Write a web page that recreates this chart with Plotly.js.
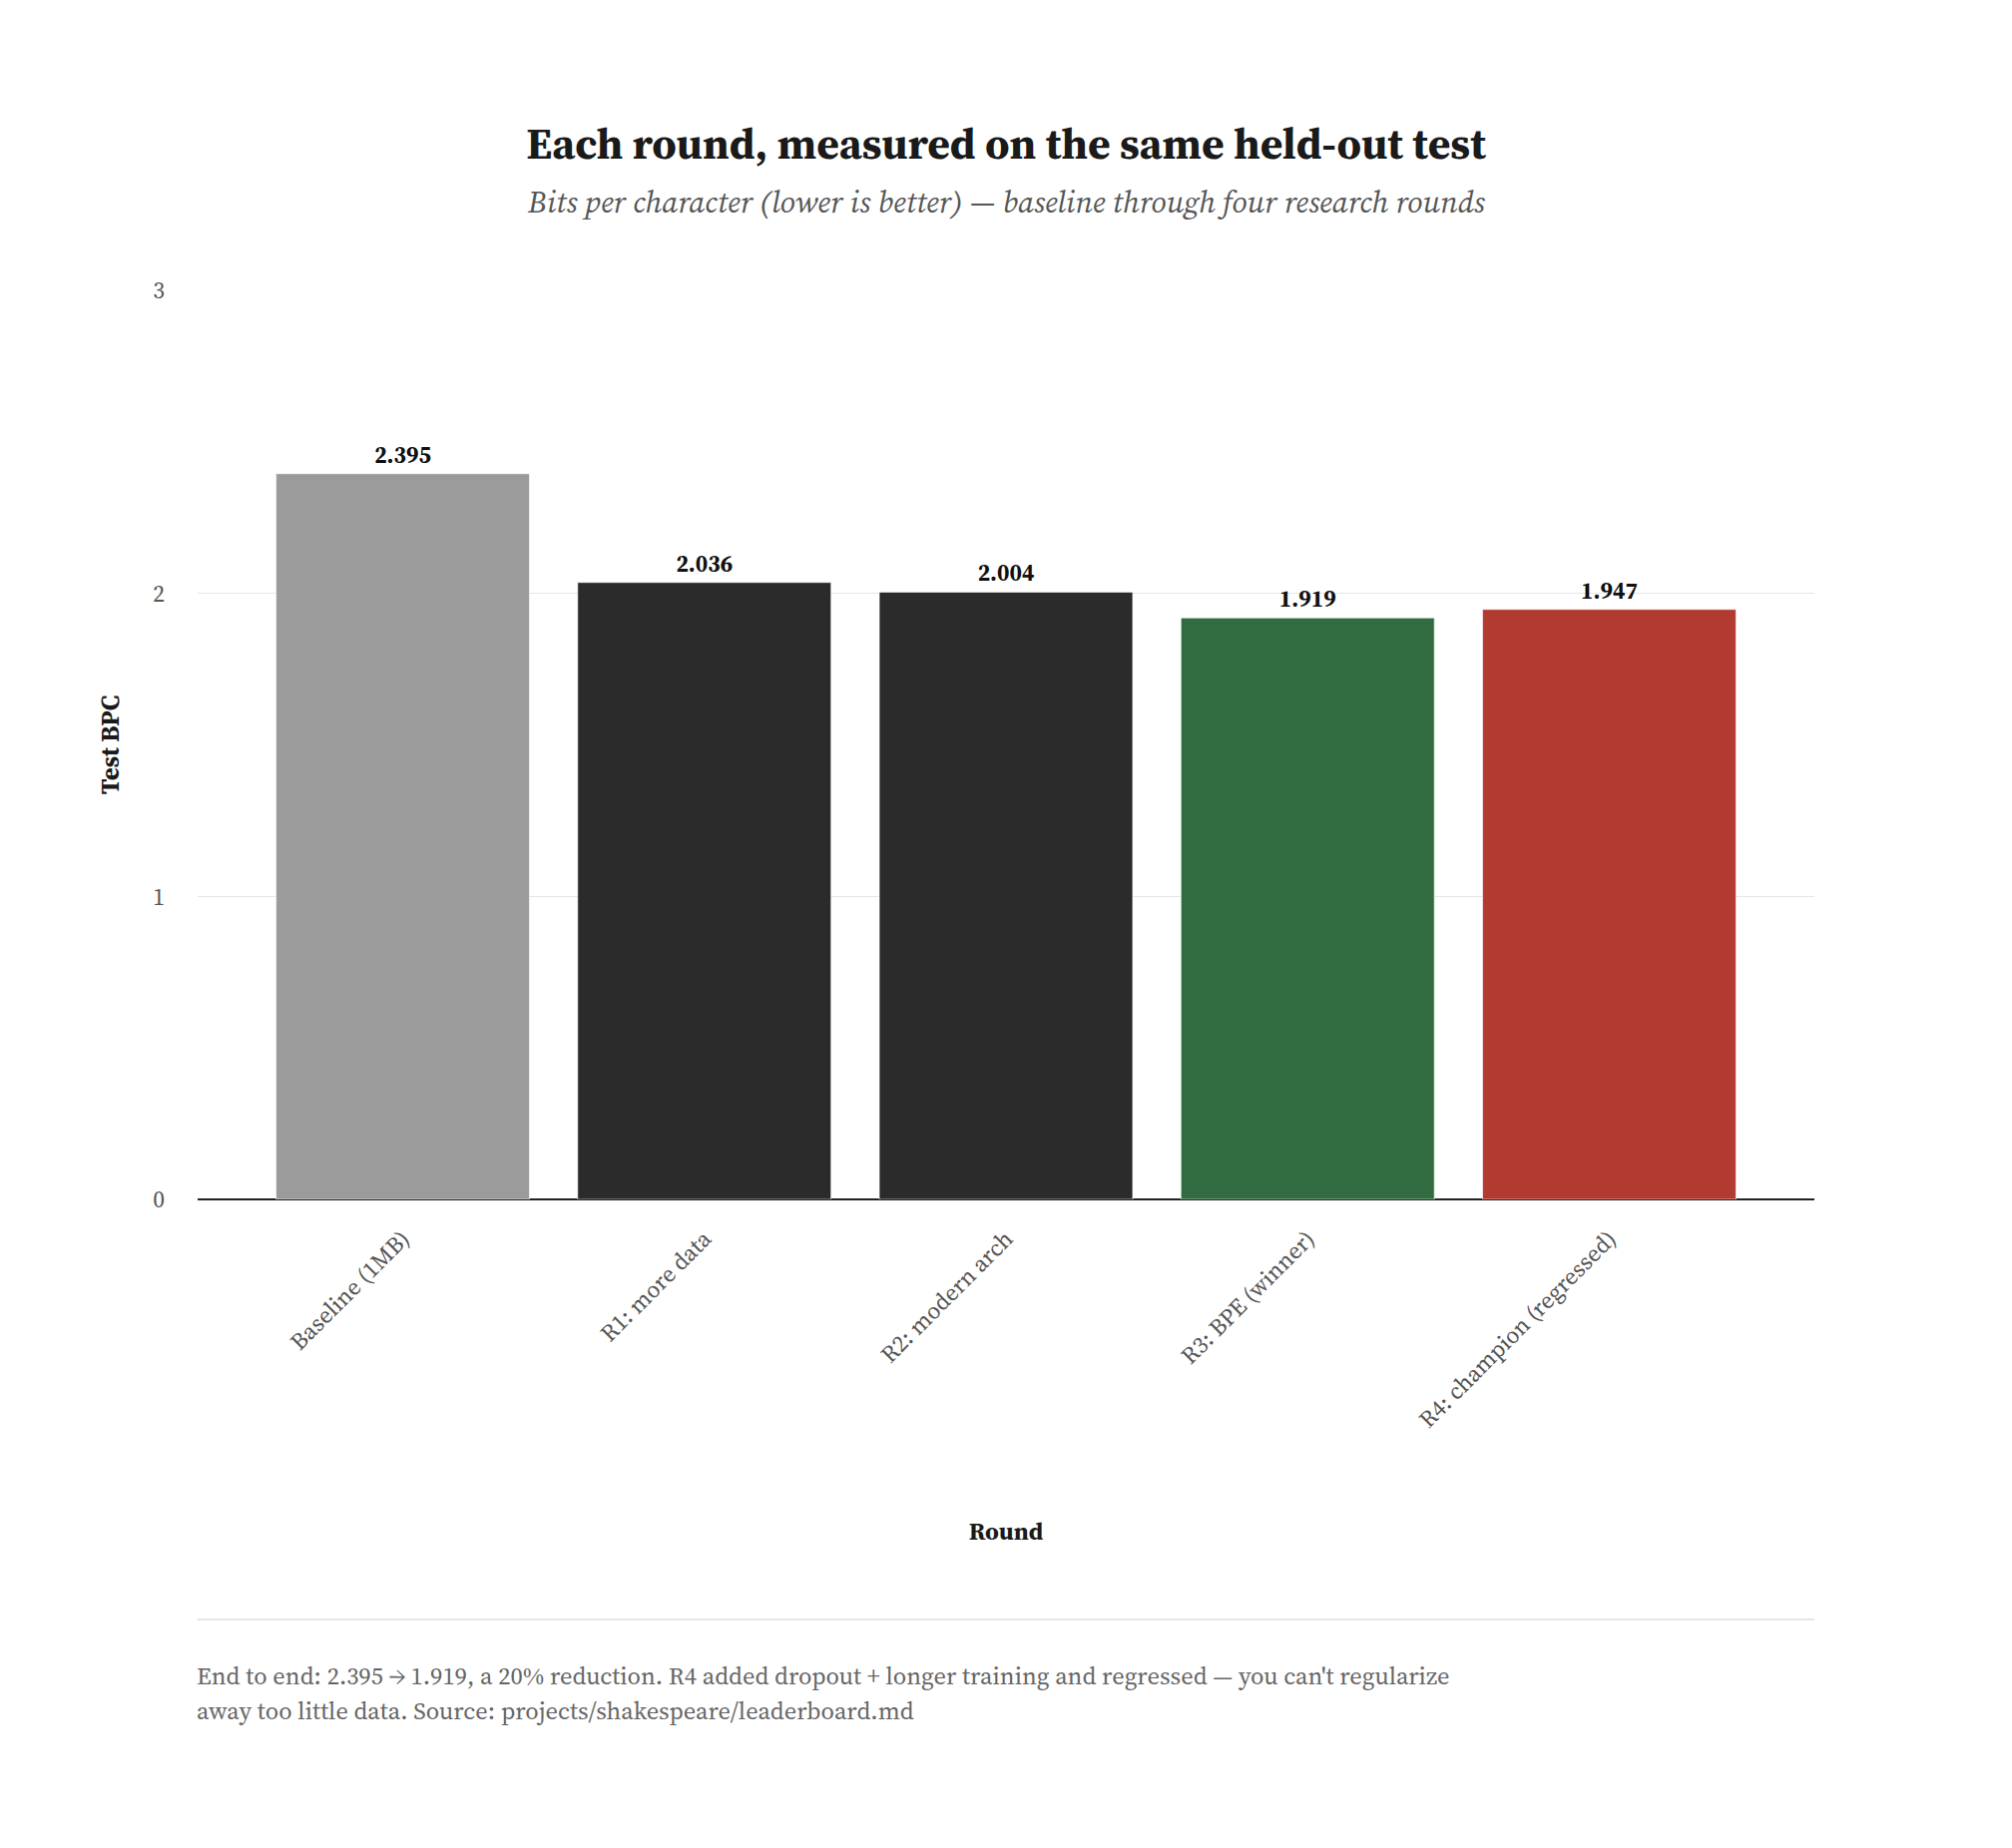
<!DOCTYPE html>
<html>
<head>
<meta charset="utf-8">
<script src="https://cdn.plot.ly/plotly-3.0.1.min.js"></script>
<style>
  html, body { margin: 0; padding: 0; background: #ffffff; }
  #chart { width: 2016px; height: 1852px; }
</style>
</head>
<body>
<div id="chart"></div>
<script>
const categories = ["Baseline (1MB)", "R1: more data", "R2: modern arch", "R3: BPE (winner)", "R4: champion (regressed)"];
const testBPC = [2.395, 2.036, 2.004, 1.919, 1.947];
const barLabels = ["2.395", "2.036", "2.004", "1.919", "1.947"];
const barColors = ["#9b9b9b", "#2b2b2b", "#2b2b2b", "#316b40", "#b23a30"];
const yTickVals = [0, 1, 2, 3];
const titleText = "Each round, measured on the same held-out test";
const subtitleText = "Bits per character (lower is better) — baseline through four research rounds";
const footLine1 = "End to end: 2.395 → 1.919, a 20% reduction. R4 added dropout + longer training and regressed — you can't regularize";
const footLine2 = "away too little data. Source: projects/shakespeare/leaderboard.md";

const FONT = "'Source Serif 4', 'Source Serif Pro', 'DejaVu Serif', Georgia, serif";
const W = 2016, H = 1852;
const mL = 198, mR = 198, mT = 291, mB = 650;
const plotH = H - mT - mB;
const py = (pix) => (H - mB - pix) / plotH; // pixel y -> paper y

const trace = {
  type: "bar",
  x: categories,
  y: testBPC,
  text: barLabels,
  textposition: "outside",
  cliponaxis: false,
  textfont: { family: FONT, size: 23, color: "#111111", weight: "bold" },
  marker: { color: barColors, line: { color: "rgba(255,255,255,0.6)", width: 1 } },
  hoverinfo: "x+y"
};

const layout = {
  width: W, height: H,
  margin: { l: mL, r: mR, t: mT, b: mB, autoexpand: false },
  paper_bgcolor: "#ffffff",
  plot_bgcolor: "#ffffff",
  font: { family: FONT, color: "#333333", size: 20 },
  bargap: 0.16,
  showlegend: false,
  title: {
    text: "<b>" + titleText + "</b>",
    font: { family: FONT, size: 43.5, color: "#1a1a1a" },
    x: 0.5, xanchor: "center",
    y: 1 - 144 / H, yanchor: "middle", yref: "container"
  },
  xaxis: {
    type: "category",
    range: [-0.68, 4.68],
    tickangle: -45,
    tickfont: { family: FONT, size: 23.5, color: "#555555" },
    showgrid: false,
    showline: false,
    zeroline: false,
    ticks: "",
    ticklabelstandoff: 20,
    automargin: false,
    title: { text: "<b>Round</b>", font: { family: FONT, size: 24.5, color: "#1a1a1a" }, standoff: 88 }
  },
  yaxis: {
    range: [0, 3],
    tickvals: yTickVals,
    ticktext: yTickVals.map(String),
    tickfont: { family: FONT, size: 23.5, color: "#555555" },
    showgrid: true,
    gridcolor: "#e6e6e6",
    gridwidth: 1.5,
    zeroline: true,
    zerolinecolor: "#222222",
    zerolinewidth: 2,
    showline: false,
    ticks: "",
    ticklabelstandoff: 32,
    automargin: false,
    title: { text: "<b>Test BPC</b>", font: { family: FONT, size: 25, color: "#1a1a1a" }, standoff: 26 }
  },
  shapes: [
    { type: "line", xref: "paper", yref: "paper", x0: 0, x1: 1, y0: py(1623), y1: py(1623),
      line: { color: "#e6e6e6", width: 2 } }
  ],
  annotations: [
    { text: "<i>" + subtitleText + "</i>", xref: "paper", yref: "paper", x: 0.5, y: py(202),
      xanchor: "center", yanchor: "middle", showarrow: false,
      font: { family: FONT, size: 31, color: "#555555" } },
    { text: footLine1, xref: "paper", yref: "paper", x: 0, y: py(1679), xshift: -3,
      xanchor: "left", yanchor: "middle", showarrow: false, align: "left",
      font: { family: FONT, size: 24.5, color: "#666666" } },
    { text: footLine2, xref: "paper", yref: "paper", x: 0, y: py(1714), xshift: -3,
      xanchor: "left", yanchor: "middle", showarrow: false, align: "left",
      font: { family: FONT, size: 24.5, color: "#666666" } }
  ]
};

Plotly.newPlot("chart", [trace], layout, { displayModeBar: false, staticPlot: true });
</script>
</body>
</html>
